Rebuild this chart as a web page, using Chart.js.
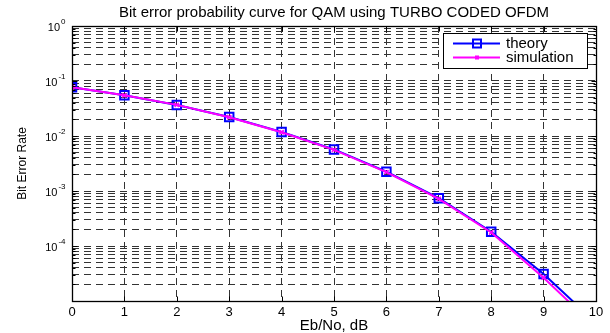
<!DOCTYPE html>
<html>
<head>
<meta charset="utf-8">
<script src="https://cdn.jsdelivr.net/npm/chart.js@4.4.1/dist/chart.umd.min.js"></script>
<style>
html, body { margin: 0; padding: 0; background: #fff; }
</style>
</head>
<body>
<canvas id="myChart" width="610" height="333"></canvas>
<script>
// Eb/No values along the x-axis (dB)
var ebno = [0, 1, 2, 3, 4, 5, 6, 7, 8, 9, 10];
// Bit error rates
var theory = [0.077, 0.055, 0.0366, 0.0222, 0.0118, 0.0057, 0.00224, 0.00074, 0.000182, 0.000031, 0.0000040];
var simulation = [0.077, 0.055, 0.0368, 0.0220, 0.0117, 0.0056, 0.00220, 0.00072, 0.000176, 0.0000265, 0.0000033];
// y-axis decades that get a label, and minor steps inside each decade
var decadeLabels = [0, -1, -2, -3, -4];
var decades = [-5, -4, -3, -2, -1];
var minorSteps = [1, 2, 3, 4, 5, 6, 7, 8, 9];

var fontFamily = "'Liberation Sans', Arial, Helvetica, sans-serif";

var yTickValues = [];
decades.forEach(function (e) {
    minorSteps.forEach(function (m) {
        yTickValues.push(m * Math.pow(10, e));
    });
});
yTickValues.push(1);

function points(ys) {
    return ebno.map(function (x, i) { return {x: x, y: ys[i]}; });
}

// box, inward ticks, superscript labels and legend, the way matlab draws them
var matlabAxes = {
    id: 'matlabAxes',
    afterDraw: function (chart) {
        var ctx = chart.ctx, a = chart.chartArea;
        var xs = chart.scales.x, ys = chart.scales.y;
        var L = Math.round(a.left) + 0.5, R = Math.round(a.right) + 0.5;
        var T = Math.round(a.top) + 0.5, B = Math.round(a.bottom) + 0.5;
        ctx.save();
        ctx.setLineDash([]);
        ctx.strokeStyle = '#000';
        ctx.lineWidth = 1;
        ctx.beginPath();
        ebno.forEach(function (v) {
            var px = Math.round(xs.getPixelForValue(v)) + 0.5;
            ctx.moveTo(px, B); ctx.lineTo(px, B - 5);
            ctx.moveTo(px, T); ctx.lineTo(px, T + 5);
        });
        yTickValues.forEach(function (v) {
            var py = Math.round(ys.getPixelForValue(v)) + 0.5;
            var major = Math.abs(Math.log10(v) - Math.round(Math.log10(v))) < 1e-9;
            var len = major ? 5 : 3;
            ctx.moveTo(L, py); ctx.lineTo(L + len, py);
            ctx.moveTo(R, py); ctx.lineTo(R - len, py);
        });
        ctx.stroke();
        ctx.lineWidth = 1.3;
        ctx.strokeRect(L, T, R - L, B - T);

        // y tick labels 10^n
        ctx.fillStyle = '#000';
        ctx.textBaseline = 'middle';
        decadeLabels.forEach(function (e) {
            var py = ys.getPixelForValue(Math.pow(10, e));
            ctx.font = '8px ' + fontFamily;
            ctx.textAlign = 'left';
            var expTxt = e === 0 ? '0' : String(e);
            var ew = ctx.measureText(expTxt).width;
            var expX = L - 7 - ew;
            ctx.fillText(expTxt, expX, py - 4);
            ctx.font = '11px ' + fontFamily;
            ctx.textAlign = 'right';
            ctx.fillText('10', expX - 1, py + 2);
        });

        // legend
        var lx = 443, ly = 33, lw = 144, lh = 35;
        ctx.fillStyle = '#fff';
        ctx.fillRect(lx, ly, lw, lh);
        ctx.lineWidth = 1;
        ctx.strokeStyle = '#000';
        ctx.strokeRect(lx + 0.5, ly + 0.5, lw, lh);
        chart.data.datasets.slice().sort(function (p, q) { return p.legendRank - q.legendRank; })
            .forEach(function (ds, i) {
                var y = ly + 10.5 + i * 14;
                ctx.strokeStyle = ds.borderColor;
                ctx.lineWidth = 2;
                ctx.beginPath();
                ctx.moveTo(lx + 10, y); ctx.lineTo(lx + 57, y);
                ctx.stroke();
                var cx = lx + 34;
                if (ds.pointStyle === 'rect') {
                    ctx.lineWidth = 2;
                    ctx.strokeRect(cx - 4, y - 4, 8, 8);
                } else {
                    ctx.fillStyle = ds.borderColor;
                    ctx.fillRect(cx - 2, y - 2, 4, 4);
                }
                ctx.fillStyle = '#000';
                ctx.font = '15px ' + fontFamily;
                ctx.textAlign = 'left';
                ctx.textBaseline = 'middle';
                ctx.fillText(ds.label, lx + 63, y);
            });
        ctx.restore();
    }
};

var ctx = document.getElementById('myChart');

var myChart = new Chart(ctx, {
    type: 'line',
    data: {
        datasets: [
            {
                label: 'simulation',
                legendRank: 1,
                data: points(simulation),
                borderColor: '#ff00ff',
                backgroundColor: '#ff00ff',
                borderWidth: 2,
                pointStyle: 'crossRot',
                pointRadius: 3,
                pointBorderWidth: 1.5,
                tension: 0,
                clip: 0,
                order: 0
            },
            {
                label: 'theory',
                legendRank: 0,
                data: points(theory),
                borderColor: '#0000ff',
                backgroundColor: 'rgba(0,0,0,0)',
                borderWidth: 2,
                pointStyle: 'rect',
                pointRadius: 6,
                pointBorderWidth: 2,
                tension: 0,
                clip: 0,
                order: 1
            }
        ]
    },
    options: {
        responsive: false,
        animation: false,
        devicePixelRatio: 1,
        layout: { padding: { left: 0, right: 14, top: 0, bottom: 0 } },
        plugins: {
            legend: { display: false },
            tooltip: { enabled: false },
            title: { display: false }
        },
        scales: {
            x: {
                type: 'linear',
                min: 0,
                max: 10,
                afterBuildTicks: function (scale) {
                    scale.ticks = ebno.map(function (v) { return {value: v}; });
                },
                afterFit: function (scale) { scale.height = 32; },
                grid: { color: '#333', lineWidth: 1, drawTicks: false },
                border: { display: false, dash: [7, 5] },
                ticks: {
                    color: '#000',
                    padding: 4,
                    maxRotation: 0,
                    autoSkip: false,
                    font: { family: fontFamily, size: 13 }
                },
                title: {
                    display: true,
                    text: 'Eb/No, dB',
                    color: '#000',
                    padding: { top: 0, bottom: 0 },
                    font: { family: fontFamily, size: 15, lineHeight: 1 }
                }
            },
            // top axis only carries the plot title, centred over the axes box
            xTop: {
                type: 'linear',
                position: 'top',
                min: 0,
                max: 10,
                afterFit: function (scale) { scale.height = 26; },
                grid: { display: false, drawTicks: false },
                border: { display: false },
                ticks: { display: false },
                title: {
                    display: true,
                    text: 'Bit error probability curve for QAM using TURBO CODED OFDM',
                    color: '#000',
                    padding: { top: 4, bottom: 0 },
                    font: { family: fontFamily, size: 15, lineHeight: 1.2 }
                }
            },
            y: {
                type: 'logarithmic',
                min: 0.00001,
                max: 1,
                afterBuildTicks: function (scale) {
                    scale.ticks = yTickValues.map(function (v) { return {value: v}; });
                },
                afterFit: function (scale) { scale.width = 72; },
                grid: { color: '#333', lineWidth: 1, drawTicks: false },
                border: { display: false, dash: [7, 5] },
                ticks: {
                    autoSkip: false,
                    callback: function () { return ''; }
                },
                title: {
                    display: true,
                    text: 'Bit Error Rate',
                    color: '#000',
                    padding: { top: 15, bottom: 0 },
                    font: { family: fontFamily, size: 12 }
                }
            }
        }
    },
    plugins: [matlabAxes]
});
</script>
</body>
</html>
